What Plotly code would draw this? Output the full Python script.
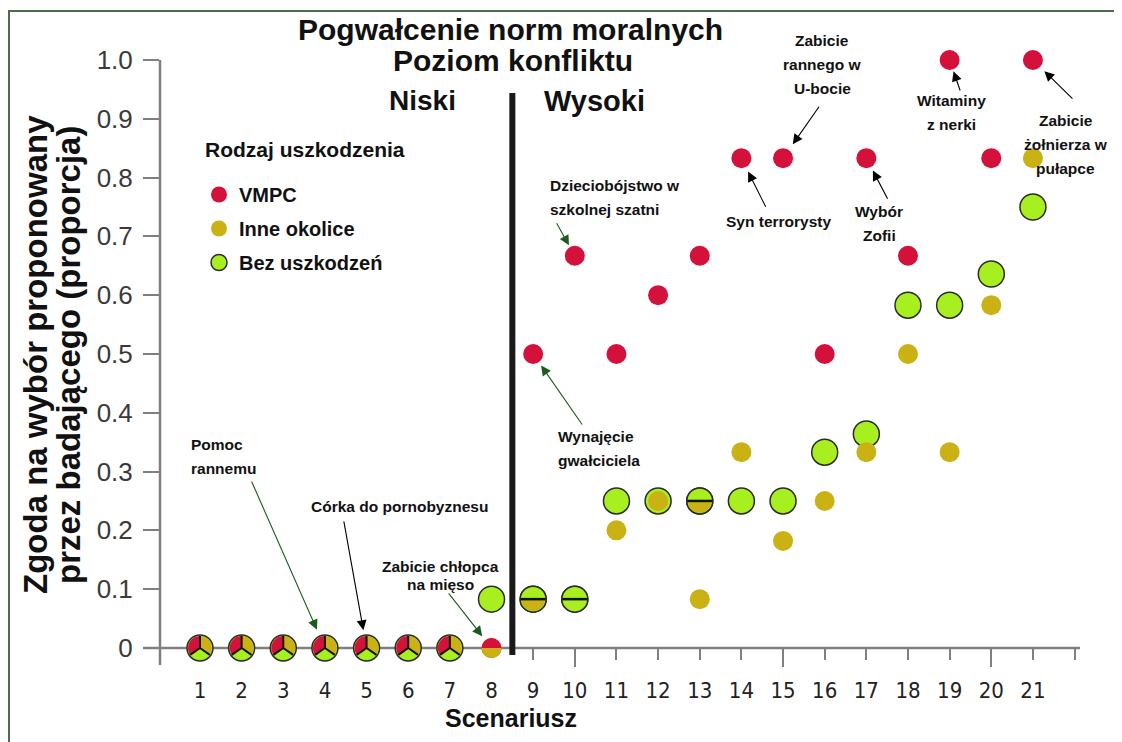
import numpy as np
import plotly.graph_objects as go

# ---------------- data ----------------
scenarios = list(range(1, 22))
vmpc = [0, 0, 0, 0, 0, 0, 0, 0, 0.5, 0.667, 0.5, 0.6, 0.667, 0.833, 0.833, 0.5, 0.833, 0.667, 1.0, 0.833, 1.0]
inne = [0, 0, 0, 0, 0, 0, 0, 0, 0.083, 0.083, 0.2, 0.25, 0.083, 0.333, 0.182, 0.25, 0.333, 0.5, 0.333, 0.583, 0.833]
bez = [0, 0, 0, 0, 0, 0, 0, 0.083, 0.083, 0.083, 0.25, 0.25, 0.25, 0.25, 0.25, 0.333, 0.364, 0.583, 0.583, 0.636, 0.75]
x_tick_labels = [str(s) for s in scenarios]
y_tick_vals = [0, 0.1, 0.2, 0.3, 0.4, 0.5, 0.6, 0.7, 0.8, 0.9, 1.0]
y_tick_labels = ["0", "0.1", "0.2", "0.3", "0.4", "0.5", "0.6", "0.7", "0.8", "0.9", "1.0"]
group_names = ["VMPC", "Inne okolice", "Bez uszkodzeń"]

pie_scenarios = [1, 2, 3, 4, 5, 6, 7]        # all three groups coincide
half_red_scenarios = [8]                      # VMPC and Inne coincide
split_scenarios = [9, 13]                     # Bez (top) / Inne (bottom)
tie_line_scenarios = [9, 10, 13]
divider_x = 8.5

notes = [
    # text, scenario, series, text dx, dy(px, up +), anchor, tail ax, ay, standoff, arrow colour
    ("Pomoc<br>rannemu", 4, "vmpc", -136, 191, "left", -74, -168, 20, "#1d5a1d"),
    ("Córka do pornobyznesu", 5, "vmpc", -58, 141, "left", -23, -128, 18, "#000000"),
    ("Zabicie chłopca<br>na mięso", 8, "vmpc", -51, 72, "center", -44, -56, 15, "#1d5a1d"),
    ("Dzieciobójstwo w<br>szkolnej szatni", 10, "vmpc", -27, 58, "left", -19, -34, 12, "#1d5a1d"),
    ("Wynajęcie<br>gwałciciela", 9, "vmpc", 23, -95, "left", 50, 72, 14, "#1d5a1d"),
    ("Zabicie<br>rannego w<br>U-bocie", 15, "vmpc", 39, 94, "center", 37, -53, 17, "#000000"),
    ("Syn terrorysty", 14, "vmpc", 37, -63, "center", 25, 50, 15, "#000000"),
    ("Wybór<br>Zofii", 17, "vmpc", 13, -65, "center", 22, 42, 14, "#000000"),
    ("Witaminy<br>z nerki", 19, "vmpc", 2, -52, "center", 11, 32, 12, "#000000"),
    ("Zabicie<br>żołnierza w<br>pułapce", 21, "vmpc", 33, -84, "center", 41, 40, 16, "#000000"),
]
note_line_gaps = {"Zabicie chłopca<br>na mięso": 18}

# ---------------- style ----------------
W, H = 1122, 742
PAGE_OFF = 8  # page body margin
ML, MR, MT, MB = 152, 50, 52, 85
PLOT_W, PLOT_H = W - ML - MR, H - MT - MB
X_RANGE = [0.04, 22.13]
Y_RANGE = [-0.029, 1.0]
SX = PLOT_W / (X_RANGE[1] - X_RANGE[0])
SY = PLOT_H / (Y_RANGE[1] - Y_RANGE[0])

RED, YEL, GRN = "#d3113b", "#cbb214", "#a8ef1f"
AXC = "#7f7f7f"
BOLD = "Liberation Sans, Arial, sans-serif"
COND = "DejaVu Sans Condensed, Liberation Sans Narrow, Arial Narrow, sans-serif"

series = {"vmpc": vmpc, "inne": inne, "bez": bez}


def px(xs, ys):
    """screen pixel -> paper coords"""
    return ((xs - PAGE_OFF) - ML) / PLOT_W, (H - MB - (ys - PAGE_OFF)) / PLOT_H


def wedge(cx, cy, r, a0, a1, n=28):
    t = np.radians(np.linspace(a0, a1, n))
    xs = [cx] + list(cx + r * np.cos(t) / SX) + [cx, None]
    ys = [cy] + list(cy + r * np.sin(t) / SY) + [cy, None]
    return xs, ys


def fill_trace(xs, ys, col):
    return go.Scatter(x=xs, y=ys, mode="lines", fill="toself", fillcolor=col,
                      line=dict(width=0, color=col), showlegend=False,
                      hoverinfo="skip", cliponaxis=False)


fig = go.Figure()

# main series: green below, yellow, red on top
fig.add_trace(go.Scatter(x=scenarios, y=bez, mode="markers", name=group_names[2],
                         legendgroup="c", legendrank=3,
                         marker=dict(size=26, color=GRN, line=dict(color="#2b2b2b", width=1.5)),
                         cliponaxis=False, hoverinfo="skip"))
fig.add_trace(go.Scatter(x=scenarios, y=inne, mode="markers", name=group_names[1],
                         legendgroup="b", legendrank=2,
                         marker=dict(size=20, color=YEL, line=dict(width=0)),
                         cliponaxis=False, hoverinfo="skip"))
fig.add_trace(go.Scatter(x=scenarios, y=vmpc, mode="markers", name=group_names[0],
                         legendgroup="a", legendrank=1,
                         marker=dict(size=20, color=RED, line=dict(width=0)),
                         cliponaxis=False, hoverinfo="skip"))

# pie markers where all three coincide
R_PIE = 12
pie_parts = [(RED, 90, 215), (GRN, 215, 325), (YEL, 325, 450)]
for col, a0, a1 in pie_parts:
    xs, ys = [], []
    for s in pie_scenarios:
        wx, wy = wedge(s, vmpc[s - 1], R_PIE, a0, a1)
        xs += wx
        ys += wy
    fig.add_trace(fill_trace(xs, ys, col))
lx, ly = [], []
for s in pie_scenarios:
    cy = vmpc[s - 1]
    for a in (90, 215, 325):
        lx += [s, s + R_PIE * np.cos(np.radians(a)) / SX, None]
        ly += [cy, cy + R_PIE * np.sin(np.radians(a)) / SY, None]
fig.add_trace(go.Scatter(x=lx, y=ly, mode="lines", line=dict(color="#111111", width=2),
                         showlegend=False, hoverinfo="skip", cliponaxis=False))

# half red / half yellow
xs, ys = [], []
for s in half_red_scenarios:
    wx, wy = wedge(s, inne[s - 1], 10, 180, 360)
    xs += wx
    ys += wy
fig.add_trace(fill_trace(xs, ys, YEL))

# tied green markers (with a line), split ones with yellow bottom half
fig.add_trace(go.Scatter(x=tie_line_scenarios, y=[bez[s - 1] for s in tie_line_scenarios], mode="markers",
                         marker=dict(size=26, color=GRN, line=dict(color="#2b2b2b", width=1.5)),
                         showlegend=False, hoverinfo="skip", cliponaxis=False))
xs, ys = [], []
for s in split_scenarios:
    wx, wy = wedge(s, bez[s - 1], 11.8, 180, 360)
    xs += wx
    ys += wy
fig.add_trace(fill_trace(xs, ys, YEL))
fig.add_trace(go.Scatter(x=tie_line_scenarios, y=[bez[s - 1] for s in tie_line_scenarios], mode="markers",
                         marker=dict(symbol="line-ew", size=18, line=dict(color="#111111", width=2.5)),
                         showlegend=False, hoverinfo="skip", cliponaxis=False))

# dummy trace for the tick-only axis
fig.add_trace(go.Scatter(x=[None], y=[None], xaxis="x2", showlegend=False, hoverinfo="skip"))

# annotations
ann = []
for text, s, ser, dx, dy, anchor, ax, ay, so, col in notes:
    yv = series[ser][s - 1]
    ann.append(dict(x=s, y=yv, xref="x", yref="y", text="", showarrow=True,
                    ax=ax, ay=ay, standoff=so, arrowhead=2, arrowsize=1.8,
                    arrowwidth=1.1, arrowcolor=col))
    lines = text.split("<br>")
    gap = note_line_gaps.get(text, 24)
    n = len(lines)
    for i, ln in enumerate(lines):
        ann.append(dict(x=s, y=yv, xref="x", yref="y", text="<b>" + ln + "</b>", showarrow=False,
                        xshift=dx, yshift=dy + (n - 1) / 2 * gap - i * gap,
                        xanchor=anchor, yanchor="middle",
                        font=dict(family=BOLD, size=15.5, color="#111111")))


def label(text, xs, ys, size, angle=0, xanchor="center"):
    xx, yy = px(xs, ys)
    ann.append(dict(x=xx, y=yy, xref="paper", yref="paper", text="<b>" + text + "</b>",
                    showarrow=False, xanchor=xanchor, yanchor="middle", textangle=angle,
                    font=dict(family=BOLD, size=size, color="#111111")))


label("Pogwałcenie norm moralnych", 510, 30, 30)
label("Poziom konfliktu", 513, 60, 30)
label("Niski", 422, 101, 28)
label("Wysoki", 594, 101, 29)
label("Scenariusz", 511, 718, 25)
label("Zgoda na wybór proponowany", 35, 355, 33, -90)
label("przez badającego (proporcja)", 68, 355, 33, -90)
label("Rodzaj uszkodzenia", 203, 150, 21, xanchor="left")

# shapes
fx0, fy1 = px(9, 11)
fx1, fy0 = px(1150, 770)
xl0, _ = px(143, 0)
shapes = [
    dict(type="line", xref="paper", yref="y", x0=xl0, x1=1.0, y0=0, y1=0,
         line=dict(color=AXC, width=2.5), layer="below"),
    dict(type="line", xref="paper", yref="paper", x0=0, x1=0, y0=0, y1=1,
         line=dict(color=AXC, width=2.5), layer="below"),
    dict(type="line", xref="x", yref="y", x0=divider_x, x1=divider_x, y0=-0.012, y1=0.944,
         line=dict(color="#1a1a1a", width=6)),
    dict(type="rect", xref="paper", yref="paper", x0=fx0, x1=fx1, y0=fy0, y1=fy1,
         line=dict(color="#4d6b4d", width=2), layer="below"),
]

x_pos = (0 - Y_RANGE[0]) / (Y_RANGE[1] - Y_RANGE[0])
lgx, lgy = px(199, 175)

fig.update_layout(
    width=W, height=H,
    margin=dict(l=ML, r=MR, t=MT, b=MB),
    paper_bgcolor="white", plot_bgcolor="white",
    showlegend=True,
    legend=dict(x=lgx, y=lgy, xanchor="left", yanchor="top",
                font=dict(family=BOLD, size=20, color="#111111", weight="bold"),
                traceorder="grouped", tracegroupgap=5, itemsizing="trace",
                bgcolor="rgba(0,0,0,0)"),
    xaxis=dict(range=X_RANGE, anchor="free", position=x_pos, showline=False, showgrid=False,
               zeroline=False, tickmode="array", tickvals=scenarios, ticktext=x_tick_labels,
               ticks="", ticklabelstandoff=27,
               tickfont=dict(family=COND, size=22, color="#222222")),
    xaxis2=dict(range=X_RANGE, overlaying="x", anchor="free", position=x_pos, showline=False,
                showgrid=False, zeroline=False, showticklabels=False,
                tickmode="array", tickvals=[10, 15, 20], ticks="outside", ticklen=18,
                tickwidth=2, tickcolor=AXC,
                minor=dict(tickmode="array", tickvals=[9, 11, 12, 13, 14, 16, 17, 18, 19, 21, 22],
                           ticks="outside", ticklen=11, tickwidth=1.5, tickcolor=AXC)),
    yaxis=dict(range=Y_RANGE, showline=False, showgrid=False, zeroline=False,
               tickmode="array", tickvals=y_tick_vals, ticktext=y_tick_labels,
               ticks="outside", ticklen=16, tickwidth=1.5, tickcolor=AXC, ticklabelstandoff=5,
               tickfont=dict(family="Liberation Sans, Arial, sans-serif", size=26, color="#3a3a3a")),
    annotations=ann,
    shapes=shapes,
)

fig.write_html("out.html")
